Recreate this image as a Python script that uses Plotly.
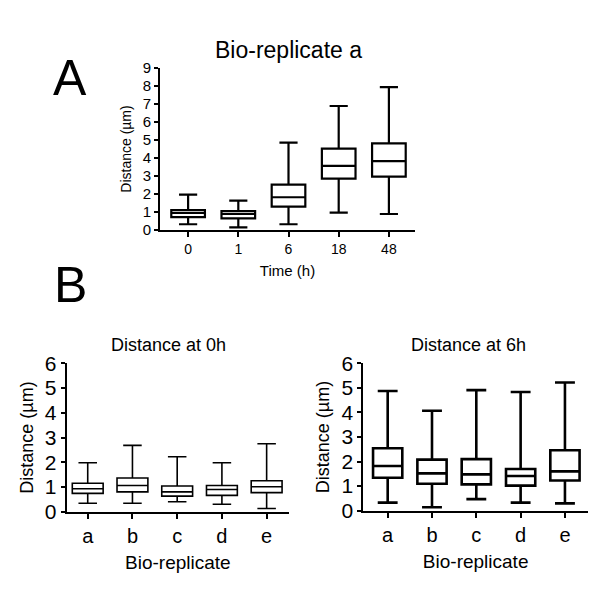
import plotly.graph_objects as go

# ---- data ----
time_cats = ["0", "1", "6", "18", "48"]
a_low = [0.32, 0.15, 0.32, 0.96, 0.89]
a_q1 = [0.72, 0.65, 1.30, 2.85, 2.96]
a_med = [0.95, 0.89, 1.82, 3.56, 3.83]
a_q3 = [1.11, 1.05, 2.52, 4.52, 4.81]
a_high = [1.96, 1.63, 4.85, 6.89, 7.94]

rep_cats = ["a", "b", "c", "d", "e"]
h0_low = [0.34, 0.34, 0.40, 0.30, 0.13]
h0_q1 = [0.74, 0.80, 0.63, 0.66, 0.77]
h0_med = [0.93, 1.06, 0.80, 0.90, 1.01]
h0_q3 = [1.15, 1.36, 1.04, 1.06, 1.25]
h0_high = [1.98, 2.68, 2.22, 1.98, 2.75]

h6_low = [0.33, 0.14, 0.47, 0.33, 0.30]
h6_q1 = [1.34, 1.10, 1.07, 1.02, 1.23]
h6_med = [1.82, 1.52, 1.48, 1.41, 1.60]
h6_q3 = [2.54, 2.08, 2.10, 1.70, 2.46]
h6_high = [4.87, 4.07, 4.91, 4.83, 5.22]

FONT = "Liberation Sans, Arial, sans-serif"

fig = go.Figure()


def add_box(x, low, q1, med, q3, high, xa, ya, lw, width, ww):
    fig.add_trace(go.Box(
        x=x, lowerfence=low, q1=q1, median=med, q3=q3, upperfence=high,
        xaxis=xa, yaxis=ya, width=width, whiskerwidth=ww,
        line=dict(color="black", width=lw), fillcolor="white",
        boxpoints=False, showlegend=False, hoverinfo="skip",
    ))


add_box(time_cats, a_low, a_q1, a_med, a_q3, a_high, "x", "y", 2.2, 0.67, 0.54)
add_box(rep_cats, h0_low, h0_q1, h0_med, h0_q3, h0_high, "x2", "y2", 1.6, 0.69, 0.6)
add_box(rep_cats, h6_low, h6_q1, h6_med, h6_q3, h6_high, "x3", "y3", 2.6, 0.66, 0.68)

W, H = 600, 616


def px_x(p):
    return p / W


def px_y(p):
    return (H - p) / H


common_axis = dict(showline=True, linecolor="black", showgrid=False, zeroline=False,
                   ticks="outside", tickcolor="black", mirror=False, automargin=False)

fig.update_layout(
    width=W, height=H,
    margin=dict(l=0, r=0, t=0, b=0),
    paper_bgcolor="white", plot_bgcolor="white",
    font=dict(family=FONT, color="black"),
    xaxis=dict(**common_axis, domain=[px_x(160), px_x(415)], anchor="y",
               type="category", categoryorder="array", categoryarray=time_cats,
               range=[-0.56, 4.52], linewidth=2, tickwidth=2, ticklen=5,
               tickfont=dict(size=14),
               title=dict(text="Time (h)", font=dict(size=15), standoff=10)),
    yaxis=dict(**common_axis, domain=[px_y(230), px_y(68)], anchor="x",
               range=[0, 9], dtick=1, linewidth=2, tickwidth=2, ticklen=4,
               tickfont=dict(size=15),
               title=dict(text="Distance (µm)", font=dict(size=14), standoff=8)),
    xaxis2=dict(**common_axis, domain=[px_x(66.7), px_x(289)], anchor="y2",
                type="category", categoryorder="array", categoryarray=rep_cats,
                range=[-0.47, 4.5], linewidth=2, tickwidth=2, ticklen=5,
                tickfont=dict(size=20),
                title=dict(text="Bio-replicate", font=dict(size=19), standoff=10)),
    yaxis2=dict(**common_axis, domain=[px_y(511.7), px_y(363.3)], anchor="x2",
                range=[0, 6], dtick=1, linewidth=2, tickwidth=2, ticklen=4,
                tickfont=dict(size=21),
                title=dict(text="Distance (µm)", font=dict(size=18), standoff=7)),
    xaxis3=dict(**common_axis, domain=[px_x(363.3), px_x(588)], anchor="y3",
                type="category", categoryorder="array", categoryarray=rep_cats,
                range=[-0.55, 4.52], linewidth=2, tickwidth=2, ticklen=5,
                tickfont=dict(size=20),
                title=dict(text="Bio-replicate", font=dict(size=19), standoff=10)),
    yaxis3=dict(**common_axis, domain=[px_y(510.7), px_y(363.3)], anchor="x3",
                range=[0, 6], dtick=1, linewidth=2, tickwidth=2, ticklen=4,
                tickfont=dict(size=21),
                title=dict(text="Distance (µm)", font=dict(size=18), standoff=7)),
    annotations=[
        dict(text="A", x=px_x(70), y=px_y(78), xref="paper", yref="paper",
             showarrow=False, font=dict(size=50), xanchor="center", yanchor="middle"),
        dict(text="B", x=px_x(70), y=px_y(285), xref="paper", yref="paper",
             showarrow=False, font=dict(size=50), xanchor="center", yanchor="middle"),
        dict(text="Bio-replicate a", x=px_x(288), y=px_y(50), xref="paper", yref="paper",
             showarrow=False, font=dict(size=23), xanchor="center", yanchor="middle"),
        dict(text="Distance at 0h", x=px_x(168), y=px_y(345), xref="paper", yref="paper",
             showarrow=False, font=dict(size=18), xanchor="center", yanchor="middle"),
        dict(text="Distance at 6h", x=px_x(468), y=px_y(345), xref="paper", yref="paper",
             showarrow=False, font=dict(size=18), xanchor="center", yanchor="middle"),
    ],
)

fig.write_html("out.html", config={"displayModeBar": False},
               post_script="document.body.style.margin='0';document.body.style.padding='0';")
